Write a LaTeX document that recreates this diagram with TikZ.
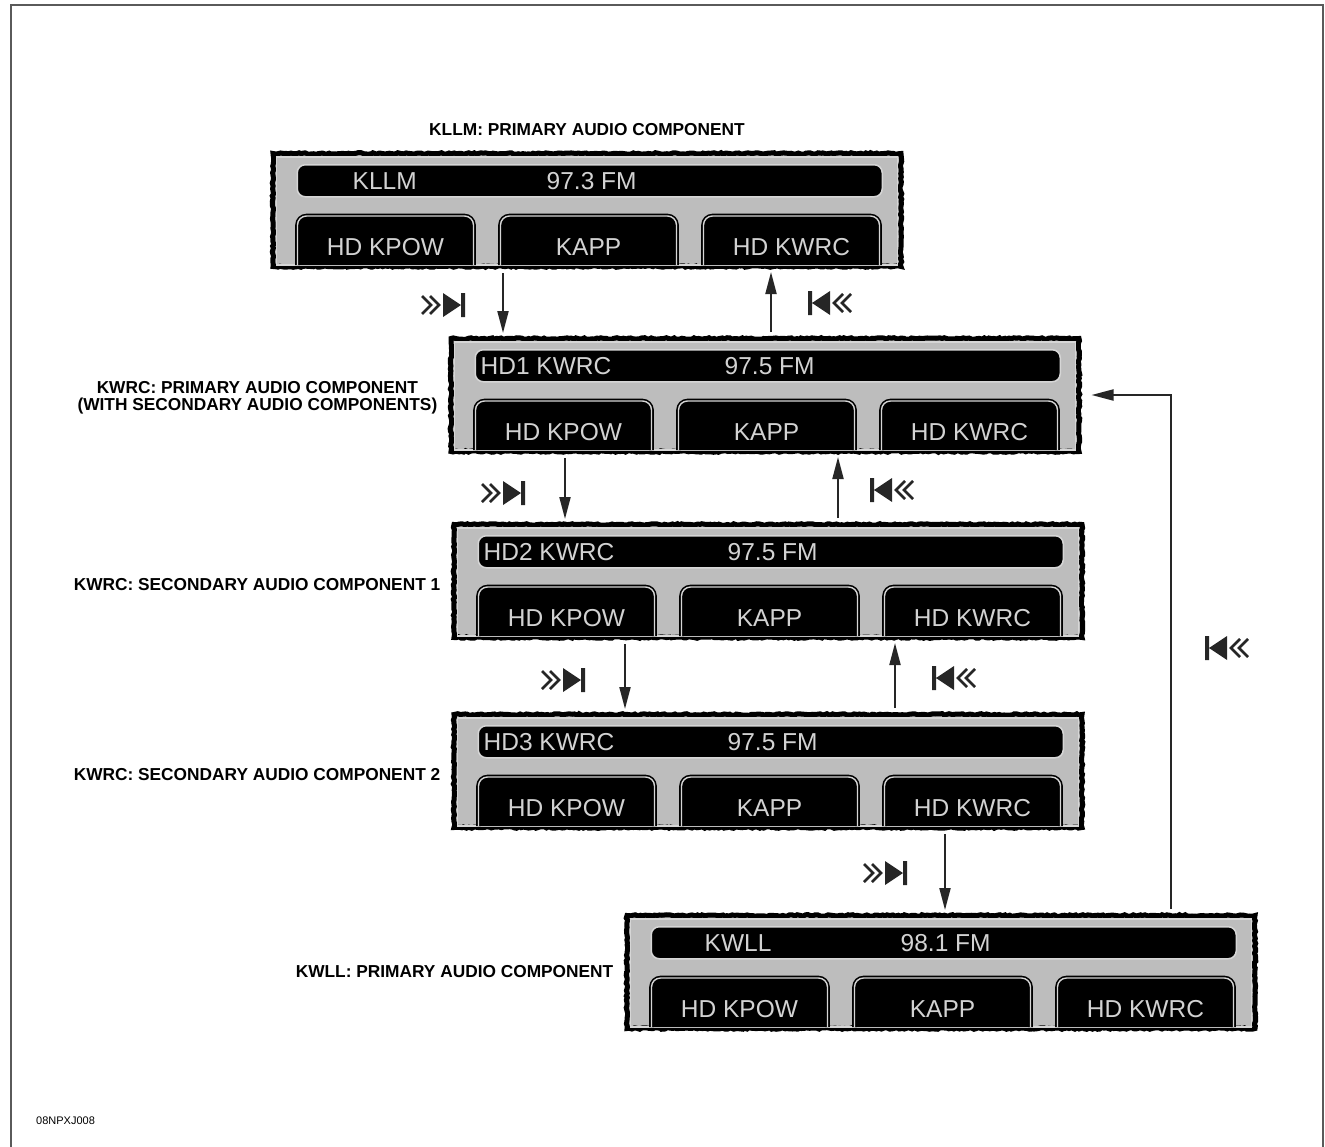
\documentclass[tikz,border=0pt]{standalone}
\usepackage{fontspec}
\setmainfont{Liberation Sans}
\usetikzlibrary{arrows.meta,calc,positioning,decorations.pathmorphing}
\definecolor{panelgray}{HTML}{BDBDBD}
\definecolor{rimgray}{HTML}{D6D6D6}
\definecolor{lcdtext}{HTML}{D2D2D2}
\definecolor{framegray}{HTML}{5A5A5A}
\definecolor{linkgray}{HTML}{262626}
\tikzset{
  panel/.style={draw=black,fill=panelgray,line width=5pt,inner sep=0pt,
    minimum width=628pt,minimum height=113pt,
    decorate,decoration={random steps,segment length=2.5pt,amplitude=0.8pt}},
  rim/.style={draw=rimgray,line width=1.6pt},
  lcd/.style={draw=rimgray,fill=black,line width=1.5pt,rounded corners=8pt,
    minimum width=585pt,minimum height=32pt,inner sep=0pt},
  softkey/.style={draw=black,fill=black,line width=1.6pt,double=rimgray,
    double distance=1.4pt,rounded corners=9pt},
  lcd text/.style={text=lcdtext,inner sep=0pt,font=\fontsize{24.5}{26}\selectfont},
  caption/.style={inner sep=1pt,align=center,font=\bfseries\fontsize{17.3}{17}\selectfont},
  link/.style={draw=linkgray,line width=2pt,-{Triangle[length=22pt,width=11pt]},
    shorten <=4pt,shorten >=3pt},
  skip fwd/.pic={
    \draw[linkgray,line width=2.6pt] (-23,-9)--(-14,0)--(-23,9) (-15,-9)--(-6,0)--(-15,9);
    \fill[linkgray] (-2,-12)--(16,0)--(-2,12)--cycle (16,-12) rectangle (20,12);
  },
  skip back/.pic={
    \draw[linkgray,line width=2.6pt] (23,-9)--(14,0)--(23,9) (15,-9)--(6,0)--(15,9);
    \fill[linkgray] (2,-12)--(-16,0)--(2,12)--cycle (-16,-12) rectangle (-20,12);
  }
}

\begin{document}
\begin{tikzpicture}[x=1pt,y=-1pt]
  \useasboundingbox (0,0) rectangle (1325,1146);
  \draw[framegray,line width=1.8pt] (11,5) rectangle (1323,1160);
  % the five radio screens
  \foreach \i/\cx/\cy/\nx/\stn/\frq in {1/587/210/82/KLLM/97.3 FM,
      2/765/395/32/HD1 KWRC/97.5 FM,3/768/581/32/HD2 KWRC/97.5 FM,
      4/768/771/32/HD3 KWRC/97.5 FM,5/941/972/80/KWLL/98.1 FM}{
    \node[panel] (p\i) at (\cx,\cy) {};
    \draw[rim] ($(p\i.north west)+(6,6)$) rectangle ($(p\i.south east)+(-6,-4)$);
    \node[lcd,anchor=north west] (d\i) at ($(p\i.north west)+(26,13)$) {};
    \node[lcd text,anchor=west] (s\i) at ($(p\i.north west)+(\nx,30)$) {\stn};
    \node[lcd text,anchor=west] (f\i) at ($(p\i.north west)+(276,30)$) {\frq};
    \foreach \k/\bx/\key in {a/115/HD KPOW,b/318/KAPP,c/521/HD KWRC}{
      \draw[softkey] ($(p\i.south west)+(\bx-88,-4)$) |- ($(p\i.north west)+(\bx,65)$)
        -| ($(p\i.south west)+(\bx+88,-4)$);
      \node[lcd text] (k\i\k) at ($(p\i.north west)+(\bx,96)$) {\key};
    }
  }
  % captions
  \node[caption,above=14pt of p1] (t1) {KLLM: PRIMARY AUDIO COMPONENT};
  \node[caption,left=10pt of p2,yshift=-3pt] (t2) {KWRC: PRIMARY AUDIO COMPONENT\\(WITH SECONDARY AUDIO COMPONENTS)};
  \node[caption,left=10pt of p3,yshift=-4pt] (t3) {KWRC: SECONDARY AUDIO COMPONENT 1};
  \node[caption,left=10pt of p4,yshift=-4pt] (t4) {KWRC: SECONDARY AUDIO COMPONENT 2};
  \node[caption,left=10pt of p5] (t5) {KWLL: PRIMARY AUDIO COMPONENT};
  \node[anchor=west,inner sep=0pt,font=\fontsize{11}{12}\selectfont] (ref) at (36,1121) {08NPXJ008};
  % arrow columns
  \foreach \n/\xx in {1/503,2/771,3/565,4/838,5/625,6/895,7/945,8/1171}
    \coordinate (x\n) at (\xx,0);
  \draw[link] (p1.south -| x1) -- (p2.north -| x1);
  \draw[link] (p2.north -| x2) -- (p1.south -| x2);
  \draw[link] (p2.south -| x3) -- (p3.north -| x3);
  \draw[link] (p3.north -| x4) -- (p2.south -| x4);
  \draw[link] (p3.south -| x5) -- (p4.north -| x5);
  \draw[link] (p4.north -| x6) -- (p3.south -| x6);
  \draw[link] (p4.south -| x7) -- (p5.north -| x7);
  \draw[link,shorten >=10pt] (p5.north -| x8) |- (p2.east);
  % seek buttons
  \pic (fw1) at (445,305) {skip fwd};
  \pic (bk1) at (828,303) {skip back};
  \pic (fw2) at (505,493) {skip fwd};
  \pic (bk2) at (890,490) {skip back};
  \pic (fw3) at (565,680) {skip fwd};
  \pic (bk3) at (952,678) {skip back};
  \pic (fw4) at (887,873) {skip fwd};
  \pic (bk4) at (1225,648) {skip back};
\end{tikzpicture}
\end{document}
